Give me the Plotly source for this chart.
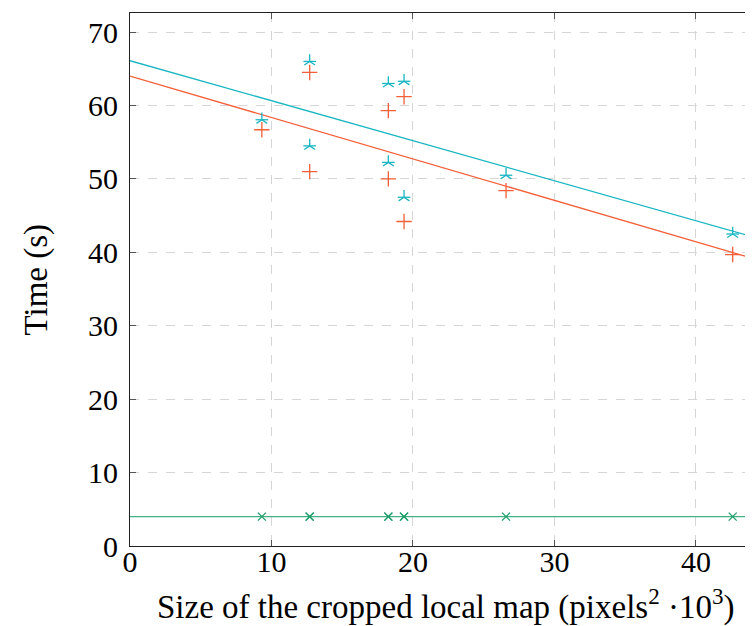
import plotly.graph_objects as go

# Data
sizes = [9.32, 12.7, 12.7, 18.26, 18.26, 19.37, 19.37, 26.58, 42.6]
time_star = [58.06, 66.0, 54.5, 63.0, 52.25, 63.3, 47.5, 50.5, 42.5]
time_plus = [56.7, 64.5, 51.0, 59.3, 50.0, 61.2, 44.2, 48.4, 39.7]
time_x = [4.0, 4.0, 4.0, 4.0, 4.0, 4.0, 4.0, 4.0, 4.0]

# Trend lines (intercept, slope)
trend_names = ["star", "plus", "x"]
trend_intercept = [66.1, 64.0, 4.0]
trend_slope = [-0.545, -0.564, 0.0]

x_range = [0, 44.6]
y_range = [0, 72.6]
x_ticks = [0, 10, 20, 30, 40]
y_ticks = [0, 10, 20, 30, 40, 50, 60, 70]

x_title = "Size of the cropped local map (pixels<sup>2</sup> ·10<sup>3</sup>)"
y_title = "Time (s)"

CYAN = "#19b6c2"
ORANGE = "#f25f38"
GREEN = "#1f9e6a"
GREEN_LINE = "#45b084"

fig = go.Figure()

line_colors = [CYAN, ORANGE, GREEN_LINE]
for b, m, c in zip(trend_intercept, trend_slope, line_colors):
    fig.add_trace(go.Scatter(
        x=x_range, y=[b + m * xv for xv in x_range],
        mode="lines", line=dict(color=c, width=1.3),
        hoverinfo="skip", showlegend=False))

# star marker approximated by a y + horizontal line overlay
fig.add_trace(go.Scatter(
    x=sizes, y=time_star, mode="markers",
    marker=dict(symbol="y-up-open", size=9, color=CYAN, line=dict(color=CYAN, width=1.3)),
    showlegend=False))
fig.add_trace(go.Scatter(
    x=sizes, y=time_star, mode="markers",
    marker=dict(symbol="line-ew-open", size=9, color=CYAN, line=dict(color=CYAN, width=1.3)),
    showlegend=False))
fig.add_trace(go.Scatter(
    x=sizes, y=time_plus, mode="markers",
    marker=dict(symbol="cross-thin-open", size=11, color=ORANGE, line=dict(color=ORANGE, width=1.3)),
    showlegend=False))
fig.add_trace(go.Scatter(
    x=sizes, y=time_x, mode="markers",
    marker=dict(symbol="x-thin-open", size=8, color=GREEN, line=dict(color=GREEN, width=1.3)),
    showlegend=False))

FONT = "Liberation Serif, DejaVu Serif, serif"

fig.update_layout(
    width=753, height=626,
    margin=dict(l=122, r=0, t=5, b=88),
    plot_bgcolor="white", paper_bgcolor="white",
    font=dict(family=FONT, size=30, color="black"),
)
fig.update_xaxes(
    range=x_range, tickvals=x_ticks, automargin=False,
    showgrid=True, gridcolor="#d6d6d6", griddash="dash", gridwidth=1,
    zeroline=False,
    showline=True, linecolor="#222222", linewidth=1.2, mirror="ticks",
    ticks="inside", ticklen=6, tickcolor="#555555",
    tickfont=dict(family=FONT, size=30),
    ticklabelstandoff=-11,
)
fig.update_yaxes(
    range=y_range, tickvals=y_ticks, automargin=False,
    showgrid=True, gridcolor="#d6d6d6", griddash="dash", gridwidth=1,
    zeroline=False,
    showline=True, linecolor="#222222", linewidth=1.2, mirror="ticks",
    ticks="inside", ticklen=6, tickcolor="#555555",
    tickfont=dict(family=FONT, size=30),
    ticklabelstandoff=5,
)

fig.add_annotation(
    text=x_title, xref="paper", yref="paper", x=0.5, y=0,
    xanchor="center", yanchor="middle", yshift=-58, showarrow=False,
    font=dict(family=FONT, size=33, color="black"))
fig.add_annotation(
    text=y_title, xref="paper", yref="paper", x=0, y=0.5,
    xanchor="center", yanchor="middle", xshift=-94, textangle=-90,
    showarrow=False, font=dict(family=FONT, size=33, color="black"))

fig.write_html("out.html")
